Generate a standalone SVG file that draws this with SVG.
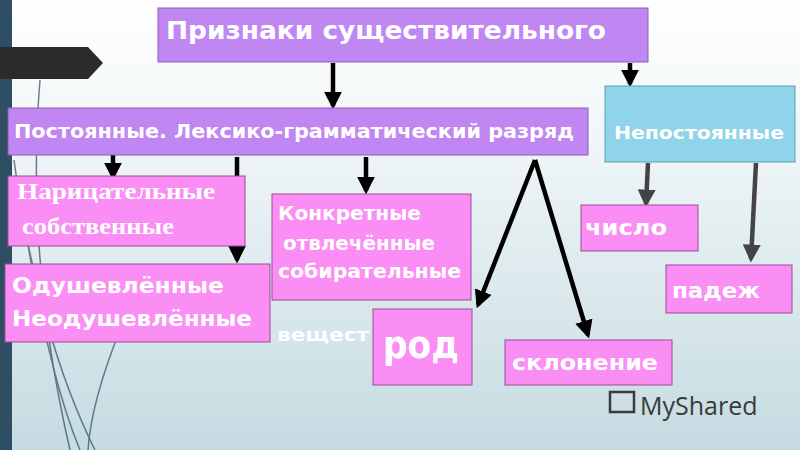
<svg xmlns="http://www.w3.org/2000/svg" width="800" height="450" viewBox="0 0 800 450">
<defs>
<linearGradient id="bg" x1="0" y1="0" x2="0" y2="1"><stop offset="0" stop-color="#ffffff"/><stop offset="0.3" stop-color="#f1f6f8"/><stop offset="1" stop-color="#c5dbe1"/></linearGradient>
<marker id="ah" viewBox="0 0 10 10" refX="8" refY="5" markerWidth="4" markerHeight="4" orient="auto"><path d="M0,0 L10,5 L0,10 z" fill="#000"/></marker>
<marker id="ahg" viewBox="0 0 10 10" refX="8" refY="5" markerWidth="4" markerHeight="4" orient="auto"><path d="M0,0 L10,5 L0,10 z" fill="#444"/></marker>
<style>
.purple{fill:#c087f3;stroke:#8a5db8;stroke-width:1}
.pink{fill:#fa8ef5;stroke:#9b4a97;stroke-width:1}
.blue{fill:#8fd4e8;stroke:#5c9fb3;stroke-width:1}
.t{font-family:"DejaVu Sans","Open Sans",sans-serif;font-weight:bold;fill:#fff}
.s{font-family:"Liberation Serif",serif;font-weight:bold;fill:#fff}
.c{stroke:#000;stroke-width:4.5;fill:none;marker-end:url(#ah)}
.cg{stroke:#444;stroke-width:4.5;fill:none;marker-end:url(#ahg)}
</style>
</defs>
<rect width="800" height="450" fill="url(#bg)"/>
<g fill="none" stroke="#2e4f63" stroke-width="1.5" opacity="0.7">
<path d="M14,160 C30,280 60,380 95,450"/>
<path d="M18,180 C35,300 55,390 80,450"/>
<path d="M40,80 C30,200 40,320 70,450"/>
<path d="M120,330 C100,380 90,420 88,450"/>
</g>
<rect x="0" y="0" width="12" height="450" fill="#2e4f63"/>
<path d="M0,47 L88,47 L103,63 L88,79 L0,79 z" fill="#2b2b2b"/>
<g id="connectors">
<line class="c" x1="333" y1="63" x2="333" y2="106"/>
<line class="c" x1="630" y1="63" x2="630" y2="84"/>
<line class="c" x1="113" y1="143" x2="113" y2="177"/>
<line class="c" x1="237" y1="157" x2="237" y2="260"/>
<line class="c" x1="366" y1="157" x2="366" y2="191"/>
<line class="c" x1="535" y1="160" x2="478" y2="305"/>
<line class="c" x1="535" y1="160" x2="588" y2="335"/>
<line class="cg" x1="648" y1="163" x2="646" y2="204"/>
<line class="cg" x1="756" y1="163" x2="751" y2="259"/>
</g>
<g id="title"><rect class="purple" x="158" y="8" width="490" height="54"/><text class="t" x="166" y="39" font-size="25" textLength="440" lengthAdjust="spacingAndGlyphs">Признаки существительного</text></g>
<g id="postoyannye"><rect class="purple" x="8" y="108" width="580" height="47"/><text class="t" x="14" y="138" font-size="19" textLength="560" lengthAdjust="spacingAndGlyphs">Постоянные. Лексико-грамматический разряд</text></g>
<g id="nepostoyannye"><rect class="blue" x="605" y="86" width="190" height="76"/><text class="t" x="614" y="139" font-size="18" textLength="170" lengthAdjust="spacingAndGlyphs">Непостоянные</text></g>
<g id="naritsatelnye"><rect class="pink" x="8" y="176" width="237" height="70"/><text class="s" x="17" y="199" font-size="23" textLength="198" lengthAdjust="spacingAndGlyphs">Нарицательные</text><text class="s" x="22" y="234" font-size="23" textLength="152" lengthAdjust="spacingAndGlyphs">собственные</text></g>
<g id="odushevlennye"><rect class="pink" x="5" y="264" width="265" height="78"/><text class="t" x="12" y="293" font-size="22" textLength="212" lengthAdjust="spacingAndGlyphs">Одушевлённые</text><text class="t" x="12" y="326" font-size="22" textLength="240" lengthAdjust="spacingAndGlyphs">Неодушевлённые</text></g>
<g id="konkretnye"><rect class="pink" x="272" y="194" width="199" height="106"/><text class="t" x="278" y="220" font-size="19" textLength="143" lengthAdjust="spacingAndGlyphs">Конкретные</text><text class="t" x="283" y="250" font-size="19" textLength="152" lengthAdjust="spacingAndGlyphs">отвлечённые</text><text class="t" x="278" y="278" font-size="19" textLength="183" lengthAdjust="spacingAndGlyphs">собирательные</text></g>
<text class="t" x="277" y="341" font-size="18" textLength="92" lengthAdjust="spacingAndGlyphs">вещест</text>
<g id="rod"><rect class="pink" x="373" y="309" width="99" height="76"/><text class="t" x="383" y="358" font-size="38" textLength="76" lengthAdjust="spacingAndGlyphs">род</text></g>
<g id="sklonenie"><rect class="pink" x="505" y="340" width="167" height="45"/><text class="t" x="512" y="370" font-size="21" textLength="146" lengthAdjust="spacingAndGlyphs">склонение</text></g>
<g id="chislo"><rect class="pink" x="581" y="205" width="117" height="46"/><text class="t" x="585" y="235" font-size="21" textLength="82" lengthAdjust="spacingAndGlyphs">число</text></g>
<g id="padezh"><rect class="pink" x="666" y="265" width="126" height="48"/><text class="t" x="672" y="298" font-size="21" textLength="88" lengthAdjust="spacingAndGlyphs">падеж</text></g>
<g id="logo"><rect x="610" y="392" width="24" height="20" fill="none" stroke="#3a3a3a" stroke-width="2.5"/><text x="640" y="415" font-family="Open Sans,DejaVu Sans,sans-serif" font-size="25" fill="#3a3a3a">MyShared</text></g>
</svg>
